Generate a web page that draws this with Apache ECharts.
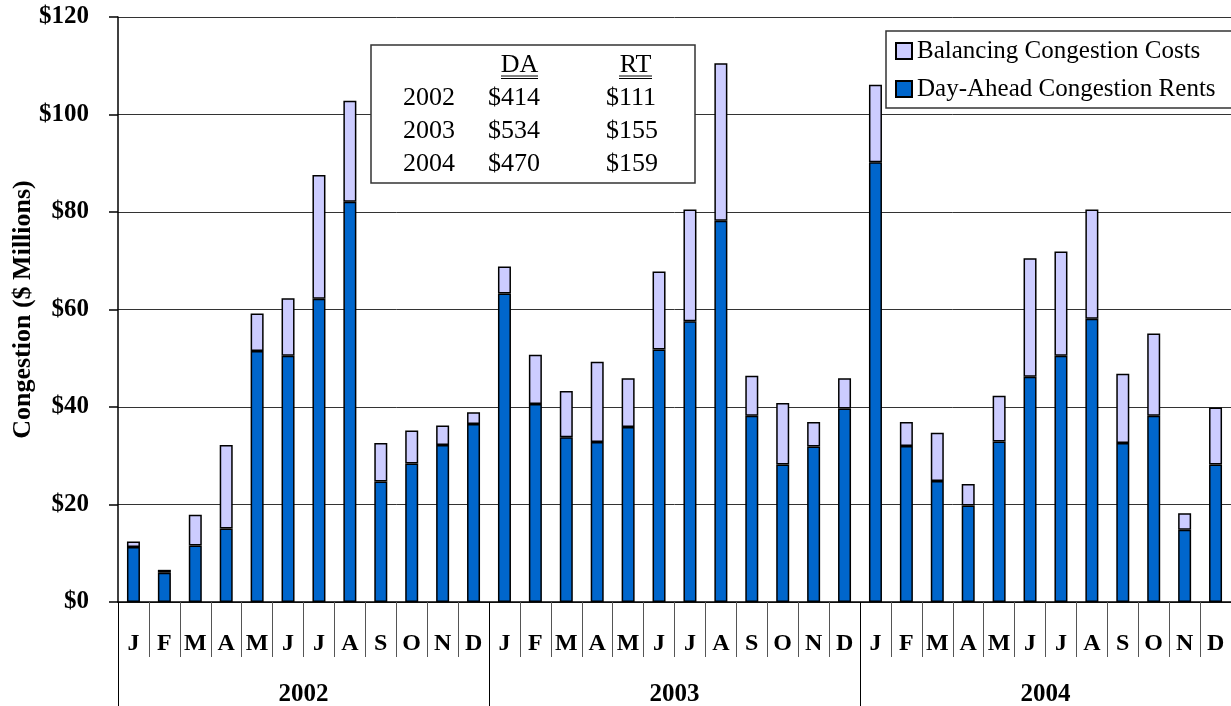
<!DOCTYPE html>
<html>
<head>
<meta charset="utf-8">
<script src="https://cdn.jsdelivr.net/npm/echarts@6/dist/echarts.min.js"></script>
<style>html,body{margin:0;padding:0;background:#fff;}#c{width:1231px;height:706px;}</style>
</head>
<body>
<div id="c"></div>
<script>
// ---- data ----
const months = ['J','F','M','A','M','J','J','A','S','O','N','D',
                'J','F','M','A','M','J','J','A','S','O','N','D',
                'J','F','M','A','M','J','J','A','S','O','N','D'];
const years = ['2002','2003','2004'];
// Day-Ahead Congestion Rents ($ millions)
const dayAhead = [11.3, 6.0, 11.6, 15.1, 51.5, 50.5, 62.2, 82.1, 24.7, 28.4, 32.2, 36.5,
                  63.3, 40.6, 33.8, 32.8, 35.9, 51.8, 57.6, 78.2, 38.2, 28.2, 31.9, 39.7,
                  90.2, 32.0, 24.8, 19.8, 32.9, 46.2, 50.5, 58.1, 32.6, 38.2, 14.8, 28.2];
// Balancing Congestion Costs ($ millions)
const balancing = [1.1, 0.6, 6.3, 17.1, 7.7, 11.8, 25.4, 20.7, 7.9, 6.8, 4.0, 2.4,
                   5.5, 10.1, 9.5, 16.5, 10.0, 16.0, 22.9, 32.3, 8.2, 12.6, 5.0, 6.2,
                   15.9, 4.9, 9.9, 4.4, 9.4, 24.3, 21.4, 22.4, 14.2, 16.9, 3.4, 11.7];
const yTicks = [0, 20, 40, 60, 80, 100, 120];
// Annual totals table
const tableYears = ['2002','2003','2004'];
const tableDA = ['$414','$534','$470'];
const tableRT = ['$111','$155','$159'];

const serif = '"Liberation Serif", "Times New Roman", serif';

const graphics = [
  // legend frame (runs off the right edge, as in the original)
  { type: 'rect', shape: { x: 886, y: 31, width: 400, height: 77 },
    style: { fill: '#fff', stroke: '#333', lineWidth: 1.5 }, z: 3 },
  // annual totals table
  { type: 'rect', shape: { x: 371, y: 45, width: 324, height: 138 },
    style: { fill: '#fff', stroke: '#333', lineWidth: 1.5 }, z: 10 },
  { type: 'text', x: 519.5, y: 65, style: { text: 'DA', font: '26px ' + serif, fill: '#000', align: 'center', verticalAlign: 'middle' }, z: 11 },
  { type: 'text', x: 635.5, y: 65, style: { text: 'RT', font: '26px ' + serif, fill: '#000', align: 'center', verticalAlign: 'middle' }, z: 11 },
  { type: 'line', shape: { x1: 501, y1: 76, x2: 538, y2: 76 }, style: { stroke: '#000', lineWidth: 1 }, z: 11 },
  { type: 'line', shape: { x1: 501, y1: 78.5, x2: 538, y2: 78.5 }, style: { stroke: '#000', lineWidth: 1 }, z: 11 },
  { type: 'line', shape: { x1: 619, y1: 76, x2: 652, y2: 76 }, style: { stroke: '#000', lineWidth: 1 }, z: 11 },
  { type: 'line', shape: { x1: 619, y1: 78.5, x2: 652, y2: 78.5 }, style: { stroke: '#000', lineWidth: 1 }, z: 11 }
];
const rowY = [98, 131, 164];
tableYears.forEach((yr, i) => {
  graphics.push({ type: 'text', x: 403, y: rowY[i], style: { text: yr, font: '26px ' + serif, fill: '#000', align: 'left', verticalAlign: 'middle' }, z: 11 });
  graphics.push({ type: 'text', x: 488, y: rowY[i], style: { text: tableDA[i], font: '26px ' + serif, fill: '#000', align: 'left', verticalAlign: 'middle' }, z: 11 });
  graphics.push({ type: 'text', x: 606, y: rowY[i], style: { text: tableRT[i], font: '26px ' + serif, fill: '#000', align: 'left', verticalAlign: 'middle' }, z: 11 });
});

const chart = echarts.init(document.getElementById('c'), null, { renderer: 'canvas' });
chart.setOption({
  backgroundColor: '#fff',
  animation: false,
  grid: { left: 118, right: 0, top: 17, bottom: 104, containLabel: false, outerBoundsMode: 'none' },
  legend: {
    orient: 'vertical',
    left: 886, top: 31,
    data: ['Balancing Congestion Costs', 'Day-Ahead Congestion Rents'],
    itemWidth: 16, itemHeight: 16,
    itemGap: 12,
    padding: [7, 5, 7, 9],
    borderWidth: 0,
    textStyle: { fontFamily: serif, fontSize: 25, color: '#000', lineHeight: 26 },
    icon: 'rect'
  },
  xAxis: [
    {
      type: 'category', data: months, position: 'bottom',
      axisLine: { show: true, lineStyle: { color: '#000', width: 1.5 } },
      axisTick: { show: true, interval: 0, length: 55, lineStyle: { color: '#555', width: 1 } },
      axisLabel: { interval: 0, margin: 30, fontFamily: serif, fontWeight: 'bold', fontSize: 24, color: '#000' },
      splitLine: { show: false }
    },
    {
      type: 'category', data: years, position: 'bottom', offset: 0,
      axisLine: { show: false },
      axisTick: { show: true, interval: 0, length: 104, lineStyle: { color: '#000', width: 1 } },
      axisLabel: { interval: 0, margin: 80, fontFamily: serif, fontWeight: 'bold', fontSize: 25, color: '#000' },
      splitLine: { show: false }
    }
  ],
  yAxis: {
    type: 'value', min: yTicks[0], max: yTicks[yTicks.length - 1], interval: 20,
    name: 'Congestion ($ Millions)', nameLocation: 'middle', nameGap: 82, nameRotate: 90,
    nameMoveOverlap: false,
    nameTextStyle: { fontFamily: serif, fontWeight: 'bold', fontSize: 26, color: '#000' },
    axisLine: { show: true, lineStyle: { color: '#000', width: 1.5 } },
    axisTick: { show: true, length: 9, lineStyle: { color: '#000', width: 1.5 } },
    axisLabel: { margin: 29, fontFamily: serif, fontWeight: 'bold', fontSize: 25, color: '#000',
                 formatter: v => '$' + v },
    splitLine: { show: true, lineStyle: { color: '#333', width: 1 } }
  },
  series: [
    {
      name: 'Day-Ahead Congestion Rents', type: 'bar', stack: 'c', xAxisIndex: 0,
      data: dayAhead, barWidth: 13,
      itemStyle: { color: '#0066CC', borderColor: '#000', borderWidth: 1.5 }
    },
    {
      name: 'Balancing Congestion Costs', type: 'bar', stack: 'c', xAxisIndex: 0,
      data: balancing, barWidth: 13,
      itemStyle: { color: '#CCCCFF', borderColor: '#000', borderWidth: 1.5 }
    }
  ],
  graphic: graphics
});
</script>
</body>
</html>
